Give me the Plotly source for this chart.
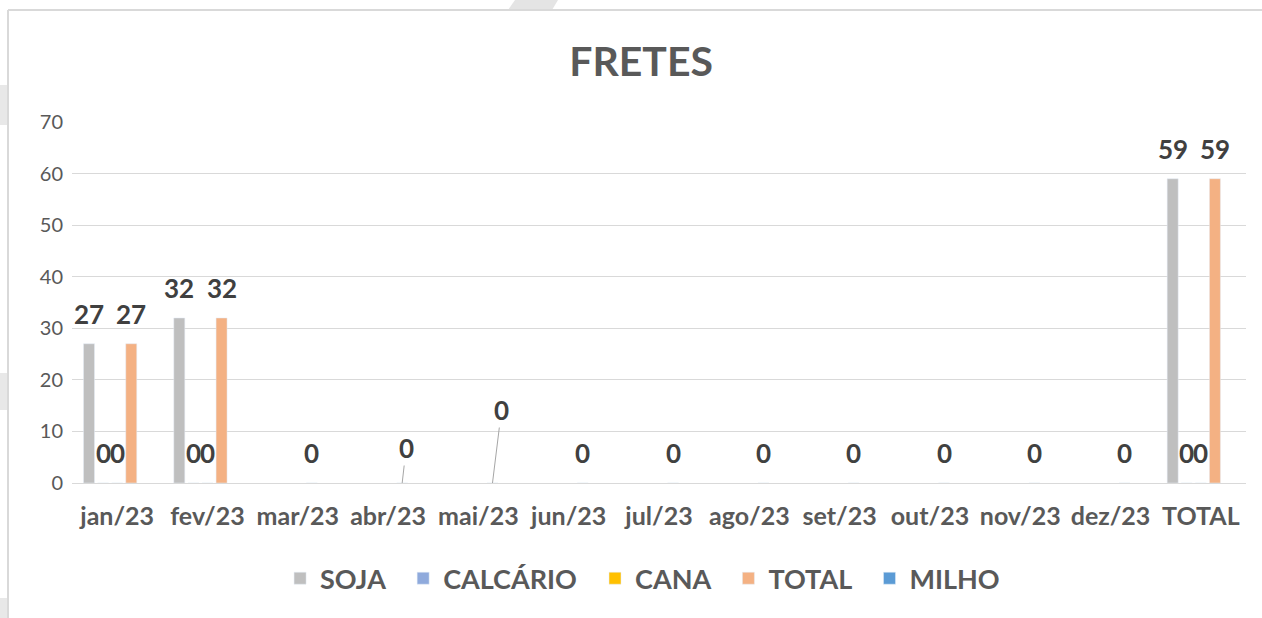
import plotly.graph_objects as go

categories = ["jan/23", "fev/23", "mar/23", "abr/23", "mai/23", "jun/23", "jul/23",
              "ago/23", "set/23", "out/23", "nov/23", "dez/23", "TOTAL"]
soja = [27, 32, None, None, None, None, None, None, None, None, None, None, 59]
calcario = [0, 0, None, None, None, None, None, None, None, None, None, None, 0]
cana = [0, 0, None, None, None, None, None, None, None, None, None, None, 0]
total = [27, 32, 0, 0, 0, 0, 0, 0, 0, 0, 0, 0, 59]
milho = [None] * 13

# labels moved with leader lines in the original (abr/23, mai/23)
moved_labels = {"abr/23": (4, -35), "mai/23": (9, -73)}

series = [
    ("SOJA", soja, "#BFBFBF"),
    ("CALCÁRIO", calcario, "#8FAADC"),
    ("CANA", cana, "#FFC000"),
    ("TOTAL", total, "#F4B183"),
    ("MILHO", milho, "#5B9BD5"),
]

FONT = "Lato"
LABEL_FONT = dict(family=FONT, size=26, color="#404040", weight="bold")
NBSP = "\u00a0"
fig = go.Figure()
for k, (name, vals, color) in enumerate(series):
    legend_name = name + (NBSP * 2 if k < len(series) - 1 else "")
    fig.add_trace(go.Bar(name=legend_name, x=categories, y=vals, marker_color=color))

n_series = len(series)
bargap = 0.22
slot = (1 - bargap) / n_series

# data labels, placed above each bar of its own series
for k, (name, vals, color) in enumerate(series):
    offset = (k - (n_series - 1) / 2) * slot
    for i, (c, v) in enumerate(zip(categories, vals)):
        if v is None:
            continue
        if name == "TOTAL" and c in moved_labels:
            dx, dy = moved_labels[c]
            fig.add_annotation(
                x=i + offset, y=v, xref="x", yref="y",
                text=str(v), showarrow=True, arrowhead=0, arrowwidth=1, arrowcolor="#A6A6A6",
                ax=dx, ay=dy, font=LABEL_FONT, standoff=0, startstandoff=0,
            )
        else:
            fig.add_annotation(
                x=i + offset, y=v, xref="x", yref="y", text=str(v), showarrow=False,
                yshift=30, yanchor="middle", font=LABEL_FONT,
            )

fig.update_layout(
    width=1262, height=618,
    margin=dict(l=72, r=16, t=122, b=135),
    paper_bgcolor="white", plot_bgcolor="white",
    title=dict(text="<b>FRETES</b>", x=0.508, xanchor="center", y=0.9, yanchor="middle",
               font=dict(family=FONT, size=41, color="#595959")),
    barmode="group", bargap=bargap, bargroupgap=0.22,
    showlegend=True,
    legend=dict(orientation="h", x=0.486, xanchor="center", y=-0.265, yanchor="middle",
                font=dict(family=FONT, size=27, color="#595959", weight="bold"),
                itemwidth=30, traceorder="normal"),
    xaxis=dict(type="category", showgrid=False, showline=False, ticks="",
               ticklabelstandoff=16,
               tickfont=dict(family=FONT, size=25, color="#595959", weight="bold")),
    yaxis=dict(range=[0, 70], dtick=10, showgrid=True, gridcolor="#D9D9D9", gridwidth=1,
               zeroline=True, zerolinecolor="#D9D9D9", zerolinewidth=1,
               ticklabelstandoff=8,
               tickfont=dict(family=FONT, size=20, color="#595959")),
)

# surroundings of the embedded chart (frame lines and faint watermark pieces)
def px(x):
    return (x - 72) / 1174.0

def py(y):
    return (483 - y) / 361.0

fig.add_shape(type="path", xref="paper", yref="paper", layer="below",
              path=f"M {px(508)} {py(10)} L {px(552)} {py(10)} L {px(558)} {py(0)} L {px(515)} {py(0)} Z",
              fillcolor="#E4E4E4", line=dict(width=0))
for y0, y1 in [(85, 125), (373, 410), (598, 618)]:
    fig.add_shape(type="rect", xref="paper", yref="paper", layer="below",
                  x0=px(0), x1=px(7), y0=py(y1), y1=py(y0),
                  fillcolor="#E8E8E8", line=dict(width=0))
fig.add_shape(type="line", xref="paper", yref="paper", x0=px(8), x1=px(8), y0=py(618), y1=py(10),
              line=dict(color="#D9D9D9", width=2))
fig.add_shape(type="line", xref="paper", yref="paper", x0=px(8), x1=px(1262), y0=py(10), y1=py(10),
              line=dict(color="#D9D9D9", width=2))
fig.write_html("out.html", config={"displayModeBar": False},
               post_script="document.body.style.margin='0';")
